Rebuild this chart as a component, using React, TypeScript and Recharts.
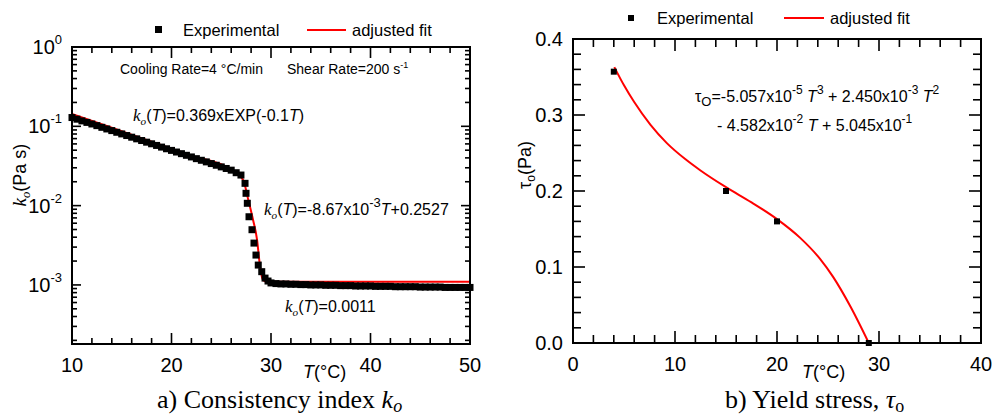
import React from "react";
import { ComposedChart, Line, Scatter, XAxis, YAxis } from "recharts";

const SANS = "'Liberation Sans', Arial, Helvetica, sans-serif";
const SERIF = "'Liberation Serif', 'Times New Roman', serif";
const RED = "#ff0000";
const INK = "#000000";

// a) consistency index k_o (Pa s) against T (°C)
const koTemps = [
  10, 10.5, 11, 11.5, 12, 12.5, 13, 13.5, 14, 14.5, 15, 15.5, 16, 16.5, 17, 17.5, 18, 18.5, 19, 19.5,
  20, 20.5, 21, 21.5, 22, 22.5, 23, 23.5, 24, 24.5, 25, 25.5, 26, 26.5, 26.98, 27.39, 27.49, 27.62,
  27.79, 28.09, 28.29, 28.49, 28.72, 29.07, 29.4, 29.7, 30, 30.5, 31, 31.5, 32, 32.5, 33, 33.5, 34,
  34.5, 35, 35.5, 36, 36.5, 37, 37.5, 38, 38.5, 39, 39.5, 40, 40.5, 41, 41.5, 42, 42.5, 43, 43.5, 44,
  44.5, 45, 45.5, 46, 46.5, 47, 47.5, 48, 48.5, 49, 49.5, 50
];
const koValues = [
  0.129, 0.123, 0.117, 0.112, 0.107, 0.102, 0.0971, 0.0926, 0.0883, 0.0841, 0.0802, 0.0765, 0.0729,
  0.0695, 0.0662, 0.0631, 0.0602, 0.0574, 0.0547, 0.0521, 0.0497, 0.0474, 0.0452, 0.0431, 0.0411,
  0.0391, 0.0373, 0.0356, 0.0339, 0.0323, 0.0308, 0.0294, 0.028, 0.026, 0.0243, 0.0191, 0.0143,
  0.0107, 0.00724, 0.00497, 0.00337, 0.00238, 0.00178, 0.00147, 0.00122, 0.00112, 0.00106, 0.00104,
  0.00103, 0.00103, 0.00102, 0.00102, 0.00101, 0.00101, 0.001, 0.001, 0.001, 0.00099, 0.00099,
  0.00099, 0.00098, 0.00098, 0.00098, 0.00097, 0.00097, 0.00097, 0.00097, 0.00096, 0.00096, 0.00096,
  0.00096, 0.00095, 0.00095, 0.00095, 0.00095, 0.00095, 0.00094, 0.00094, 0.00094, 0.00094, 0.00094,
  0.00093, 0.00093, 0.00093, 0.00093, 0.00093, 0.00093
];
const koFitTemps = [10, 14, 18, 22, 26, 27.2, 27.72, 28.2, 28.6, 28.9, 29.2, 29.5, 40, 50];
const koFitValues = [0.143, 0.0958, 0.0638, 0.0426, 0.0285, 0.021, 0.0118, 0.0066, 0.0037, 0.0017, 0.00115, 0.0011, 0.0011, 0.0011];

const koXDomain = [10, 50];
const koYDomain = [0.00018, 1];
const koXTicks = [10, 12, 14, 16, 18, 20, 22, 24, 26, 28, 30, 32, 34, 36, 38, 40, 42, 44, 46, 48, 50];
const koYTicks = [
  0.0002, 0.0003, 0.0004, 0.0005, 0.0006, 0.0007, 0.0008, 0.0009, 0.001, 0.002, 0.003, 0.004, 0.005,
  0.006, 0.007, 0.008, 0.009, 0.01, 0.02, 0.03, 0.04, 0.05, 0.06, 0.07, 0.08, 0.09, 0.1, 0.2, 0.3,
  0.4, 0.5, 0.6, 0.7, 0.8, 0.9, 1
];

// b) yield stress tau_o (Pa) against T (°C)
const tauTemps = [4, 15, 20, 29];
const tauValues = [0.357, 0.2, 0.16, 0.0];
const tauFitTemps = [4.05, 5, 6, 7.6, 9.2, 11, 12.5, 15, 17.5, 20, 22.3, 24.2, 25.5, 27.2, 29];
const tauFitValues = [0.363, 0.339, 0.317, 0.287, 0.263, 0.242, 0.227, 0.205, 0.185, 0.163, 0.138, 0.111, 0.087, 0.048, 0.0];

const tauXDomain = [0, 40];
const tauYDomain = [0, 0.4];
const tauXTicks = [0, 2, 4, 6, 8, 10, 12, 14, 16, 18, 20, 22, 24, 26, 28, 30, 32, 34, 36, 38, 40];
const tauYTicks = [
  0, 0.02, 0.04, 0.06, 0.08, 0.1, 0.12, 0.14, 0.16, 0.18, 0.2, 0.22, 0.24, 0.26, 0.28, 0.3, 0.32,
  0.34, 0.36, 0.38, 0.4
];

const pairs = (xs: number[], ys: number[]) => xs.map((T, i) => ({ T, v: ys[i] }));
const koExp = pairs(koTemps, koValues);
const koFit = pairs(koFitTemps, koFitValues);
const tauExp = pairs(tauTemps, tauValues);
const tauFit = pairs(tauFitTemps, tauFitValues);

const near = (a: number, b: number) => Math.abs(a - b) < 1e-6;
const decade = (v: number) => near(Math.log10(v), Math.round(Math.log10(v)));
const everyTen = (v: number) => near(v / 10, Math.round(v / 10));
const everyTenth = (v: number) => near(v * 10, Math.round(v * 10));

// plot boxes: chart offset + margin + axis size, same numbers the charts use below
const KO = { left: 0, width: 500, m: { top: 47, right: 30, bottom: 45, left: 12 }, xAxisH: 30, yAxisW: 60 };
const TAU = { left: 500, width: 495, m: { top: 39, right: 14, bottom: 46, left: 13 }, xAxisH: 30, yAxisW: 60 };
const H = 419;
const plotBox = (c: typeof KO) => ({
  x0: c.left + c.m.left + c.yAxisW,
  x1: c.left + c.width - c.m.right,
  y0: c.m.top,
  y1: H - c.m.bottom - c.xAxisH
});

const xLabel = (p: any) =>
  everyTen(p.payload.value) ? (
    <text x={p.x} y={p.y + 28} textAnchor="middle" fontFamily={SANS} fontSize={20} fill={INK}>
      {String(p.payload.value)}
    </text>
  ) : (
    <g />
  );

const powerLabel = (p: any) =>
  decade(p.payload.value) ? (
    <text x={p.x - 10} y={p.y + 7} textAnchor="end" fontFamily={SANS} fontSize={20} fill={INK}>
      <tspan>10</tspan>
      <tspan dy={-10} fontSize={13}>{String(Math.round(Math.log10(p.payload.value)))}</tspan>
    </text>
  ) : (
    <g />
  );

const decimalLabel = (p: any) =>
  everyTenth(p.payload.value) ? (
    <text x={p.x - 10} y={p.y + 7} textAnchor="end" fontFamily={SANS} fontSize={20} fill={INK}>
      {p.payload.value.toFixed(1)}
    </text>
  ) : (
    <g />
  );

const square = (size: number) => (p: any) => (
  <rect x={p.cx - size / 2} y={p.cy - size / 2} width={size} height={size} fill={INK} />
);

const axisCommon = {
  type: "number" as const,
  interval: 0 as const,
  tickSize: 0,
  tickMargin: 0,
  axisLine: false,
  tickLine: false
};

function ConsistencyChart() {
  return (
    <ComposedChart width={KO.width} height={H} margin={KO.m}>
      <XAxis {...axisCommon} xAxisId="b" dataKey="T" domain={koXDomain} ticks={koXTicks} height={KO.xAxisH} tick={xLabel} />
      <YAxis {...axisCommon} yAxisId="l" dataKey="v" scale="log" domain={koYDomain} ticks={koYTicks} width={KO.yAxisW}
        tick={powerLabel} />
      <Scatter xAxisId="b" yAxisId="l" data={koExp} shape={square(7)} isAnimationActive={false} />
      <Line xAxisId="b" yAxisId="l" data={koFit} dataKey="v" type="monotone" stroke={RED} strokeWidth={2}
        dot={false} isAnimationActive={false} />
    </ComposedChart>
  );
}

function YieldChart() {
  return (
    <ComposedChart width={TAU.width} height={H} margin={TAU.m}>
      <XAxis {...axisCommon} xAxisId="b" dataKey="T" domain={tauXDomain} ticks={tauXTicks} height={TAU.xAxisH} tick={xLabel} />
      <YAxis {...axisCommon} yAxisId="l" dataKey="v" domain={tauYDomain} ticks={tauYTicks} width={TAU.yAxisW}
        tick={decimalLabel} />
      <Scatter xAxisId="b" yAxisId="l" data={tauExp} shape={square(6)} isAnimationActive={false} />
      <Line xAxisId="b" yAxisId="l" data={tauFit} dataKey="v" type="monotone" stroke={RED} strokeWidth={2}
        dot={false} isAnimationActive={false} />
    </ComposedChart>
  );
}

// inward ticks on all four sides, built from filled strips
function TickMarks({ c, xd, yd, xTicks, yTicks, log, xMajor, yMajor, xl, xs, yl, ys }: any) {
  const b = plotBox(c);
  const fx = (t: number) => b.x0 + ((t - xd[0]) / (xd[1] - xd[0])) * (b.x1 - b.x0);
  const f = (v: number) => (log ? Math.log10(v) : v);
  const fy = (v: number) => b.y1 - ((f(v) - f(yd[0])) / (f(yd[1]) - f(yd[0]))) * (b.y1 - b.y0);
  return (
    <g fill={INK}>
      {xTicks.map((t: number) => {
        const len = xMajor(t) ? xl : xs;
        return (
          <g key={`x${t}`}>
            <rect x={fx(t) - 0.8} y={b.y1 - len} width={1.6} height={len} />
            <rect x={fx(t) - 0.8} y={b.y0} width={1.6} height={len} />
          </g>
        );
      })}
      {yTicks.map((v: number) => {
        const len = yMajor(v) ? yl : ys;
        return (
          <g key={`y${v}`}>
            <rect x={b.x0} y={fy(v) - 0.8} width={len} height={1.6} />
            <rect x={b.x1 - len} y={fy(v) - 0.8} width={len} height={1.6} />
          </g>
        );
      })}
    </g>
  );
}

// the plot frame as a bordered box laid over the chart
function FrameBox({ c }: { c: typeof KO }) {
  const b = plotBox(c);
  return (
    <div
      style={{
        position: "absolute",
        left: b.x0 - 1,
        top: b.y0 - 1,
        width: b.x1 - b.x0 - 2,
        height: b.y1 - b.y0 - 2,
        border: `2px solid ${INK}`,
        pointerEvents: "none"
      }}
    />
  );
}

const it = { fontStyle: "italic" } as const;
const ko = (size: number) => [
  <tspan key="k" fontFamily={SERIF} fontStyle="italic" fontSize={size + 1}>k</tspan>,
  <tspan key="o" fontFamily={SERIF} fontStyle="italic" fontSize={size * 0.7} dy={4}>o</tspan>
];

function Notes() {
  return (
    <svg width={995} height={419} style={{ position: "absolute", left: 0, top: 0, pointerEvents: "none" }}>
      <TickMarks c={KO} xd={koXDomain} yd={koYDomain} xTicks={koXTicks} yTicks={koYTicks} log
        xMajor={everyTen} yMajor={decade} xl={11} xs={6} yl={9} ys={5} />
      <TickMarks c={TAU} xd={tauXDomain} yd={tauYDomain} xTicks={tauXTicks} yTicks={tauYTicks} log={false}
        xMajor={everyTen} yMajor={everyTenth} xl={12} xs={8} yl={12} ys={8} />
      <g fontFamily={SANS} fill={INK}>
        {/* legends */}
        <rect x={155} y={26} width={7} height={7} fill={INK} />
        <text x={183} y={36} fontSize={16.5}>Experimental</text>
        <line x1={307} x2={346} y1={30} y2={30} stroke={RED} strokeWidth={2} />
        <text x={352} y={36} fontSize={16.5}>adjusted fit</text>

        <rect x={628} y={15} width={6} height={6} fill={INK} />
        <text x={657} y={24} fontSize={16.5}>Experimental</text>
        <line x1={784} x2={824} y1={18} y2={18} stroke={RED} strokeWidth={2} />
        <text x={830} y={24} fontSize={16.5}>adjusted fit</text>

        {/* panel a notes */}
        <text x={120} y={74} fontSize={14}>Cooling Rate=4 °C/min</text>
        <text x={287} y={74} fontSize={14}>
          <tspan>Shear Rate=200 s</tspan>
          <tspan dy={-6} fontSize={9}>-1</tspan>
        </text>
        <text x={133} y={121} fontSize={16}>
          {ko(16)}
          <tspan dy={-4}>(</tspan>
          <tspan style={it}>T</tspan>
          <tspan>)=0.369xEXP(-0.1</tspan>
          <tspan style={it}>T</tspan>
          <tspan>)</tspan>
        </text>
        <text x={264} y={215} fontSize={16}>
          {ko(16)}
          <tspan dy={-4}>(</tspan>
          <tspan style={it}>T</tspan>
          <tspan>)=-8.67x10</tspan>
          <tspan dy={-8} fontSize={13}>-3</tspan>
          <tspan dy={8} style={it}>T</tspan>
          <tspan>+0.2527</tspan>
        </text>
        <text x={285} y={312} fontSize={16}>
          {ko(16)}
          <tspan dy={-4}>(</tspan>
          <tspan style={it}>T</tspan>
          <tspan>)=0.0011</tspan>
        </text>

        {/* panel b equation */}
        <text x={695} y={102} fontSize={16}>
          <tspan>τ</tspan>
          <tspan dy={4} fontSize={13}>O</tspan>
          <tspan dy={-4}>=-5.057x10</tspan>
          <tspan dy={-8} fontSize={12}>-5</tspan>
          <tspan dy={8}> </tspan>
          <tspan style={it}>T</tspan>
          <tspan dy={-8} fontSize={12}>3</tspan>
          <tspan dy={8}> + 2.450x10</tspan>
          <tspan dy={-8} fontSize={12}>-3</tspan>
          <tspan dy={8}> </tspan>
          <tspan style={it}>T</tspan>
          <tspan dy={-8} fontSize={12}>2</tspan>
        </text>
        <text x={717} y={131} fontSize={16}>
          <tspan>- 4.582x10</tspan>
          <tspan dy={-8} fontSize={12}>-2</tspan>
          <tspan dy={8}> </tspan>
          <tspan style={it}>T</tspan>
          <tspan> + 5.045x10</tspan>
          <tspan dy={-8} fontSize={12}>-1</tspan>
        </text>

        {/* axis titles */}
        <text transform="translate(26,175) rotate(-90)" textAnchor="middle" fontSize={18}>
          {ko(18)}
          <tspan dy={-4}>(Pa s)</tspan>
        </text>
        <text transform="translate(531,165) rotate(-90)" textAnchor="middle" fontSize={18}>
          <tspan>τ</tspan>
          <tspan dy={4} fontSize={12}>o</tspan>
          <tspan dy={-4}>(Pa)</tspan>
        </text>
        <text x={303} y={378} fontSize={18}>
          <tspan style={it}>T</tspan>
          <tspan>(°C)</tspan>
        </text>
        <text x={802} y={378} fontSize={18}>
          <tspan style={it}>T</tspan>
          <tspan>(°C)</tspan>
        </text>
      </g>

      {/* captions */}
      <g fontFamily={SERIF} fill={INK} fontSize={26}>
        <text x={157} y={408}>
          <tspan>a) Consistency index </tspan>
          <tspan style={it}>k</tspan>
          <tspan dy={4} fontSize={18} style={it}>o</tspan>
        </text>
        <text x={725} y={408}>
          <tspan>b) Yield stress,  </tspan>
          <tspan style={it}>τ</tspan>
          <tspan dy={4} fontSize={18}>o</tspan>
        </text>
      </g>
    </svg>
  );
}

export default function App() {
  return (
    <div style={{ position: "fixed", left: 0, top: 0, width: 995, height: 419, background: "#fff" }}>
      <div style={{ position: "absolute", left: KO.left, top: 0 }}>
        <ConsistencyChart />
      </div>
      <div style={{ position: "absolute", left: TAU.left, top: 0 }}>
        <YieldChart />
      </div>
      <Notes />
      <FrameBox c={KO} />
      <FrameBox c={TAU} />
    </div>
  );
}
